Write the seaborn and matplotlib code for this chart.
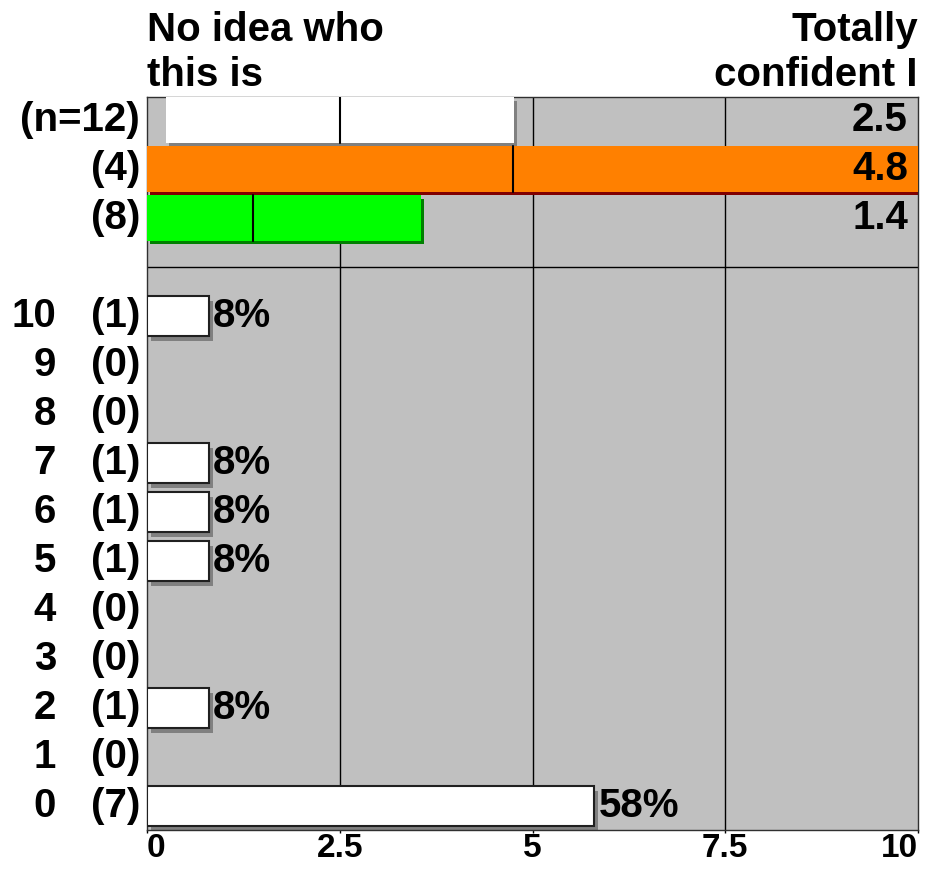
import numpy as np
import pandas as pd
import matplotlib
matplotlib.use("Agg")
import matplotlib.pyplot as plt
import seaborn as sns

# rating distribution (bottom panel)
ratings = [10, 9, 8, 7, 6, 5, 4, 3, 2, 1, 0]
counts = [1, 0, 0, 1, 1, 1, 0, 0, 1, 0, 7]
percents = [8, 0, 0, 8, 8, 8, 0, 0, 8, 0, 58]

# group summaries (top panel): mean with confidence interval
group_labels = ["(n=12)", "(4)", "(8)"]
group_means = [2.5, 4.75, 1.375]
group_mean_labels = ["2.5", "4.8", "1.4"]
group_ci_low = [0.24, 0.0, 0.0]
group_ci_high = [4.76, 10.0, 3.55]
group_colors = ["#FFFFFF", "#FF8000", "#00FF00"]
group_shadows = ["#808080", "#800000", "#008000"]

x_ticks = [0, 2.5, 5, 7.5, 10]
x_ticklabels = ["0", "2.5", "5", "7.5", "10"]
left_title = "No idea who\nthis is"
right_title = "Totally\nconfident I"

sns.set_style("white", {"axes.facecolor": "#C0C0C0"})
plt.rcParams["font.family"] = ["Liberation Sans", "DejaVu Sans"]
plt.rcParams["font.weight"] = "bold"
plt.rcParams["text.color"] = "black"
plt.rcParams["xtick.color"] = "black"
plt.rcParams["ytick.color"] = "black"
FS = 29

fig = plt.figure(figsize=(9.33, 8.71), dpi=100)
ax = fig.add_axes([147 / 933, 1 - 830 / 871, 771 / 933, 733 / 871])

df = pd.DataFrame({"rating": ratings, "count": counts, "pct": percents})
df["length"] = df["pct"] / 10
shown = df[df["pct"] > 0]

# grid lines
for xv in x_ticks[1:-1]:
    ax.axvline(xv, color="black", lw=1, zorder=1)
ax.axhline(11, color="black", lw=1, zorder=1)

# shadows of histogram bars
ax.barh(shown["rating"] - 0.1, shown["length"], left=0.05, height=0.82,
        color="#808080", linewidth=0, zorder=2)
sns.barplot(data=shown, x="length", y="rating", orient="h", native_scale=True,
            width=0.82, color="white", saturation=1, edgecolor="#202020",
            linewidth=1.5, errorbar=None, ax=ax, zorder=3)
for rt, ln, pc in zip(shown["rating"], shown["length"], shown["pct"]):
    ax.annotate(f"{int(pc)}%", (ln, rt), xytext=(3, 0),
                textcoords="offset points", va="center", ha="left",
                fontsize=FS, fontweight="bold", color="black", zorder=5)

# top panel
top_pos = [14, 13, 12]
for i, yp in enumerate(top_pos):
    lo, hi = group_ci_low[i], group_ci_high[i]
    ax.barh(yp - 0.07, hi - lo, left=lo + 0.04, height=0.92,
            color=group_shadows[i], linewidth=0, zorder=2)
    ax.barh(yp, hi - lo, left=lo, height=0.92, color=group_colors[i],
            linewidth=0, zorder=3)
    ax.plot([group_means[i]] * 2, [yp - 0.46, yp + 0.46], color="black",
            lw=1.5, zorder=4)
    ax.text(0.987, yp, group_mean_labels[i], transform=ax.get_yaxis_transform(),
            ha="right", va="center", fontsize=FS, fontweight="bold",
            color="black", zorder=5)

ax.set_xlim(0, 10)
ax.set_ylim(-0.49, 14.47)
ax.set_xlabel("")
ax.set_ylabel("")

ax.set_xticks(x_ticks)
ax.set_xticklabels(x_ticklabels, fontsize=24, fontweight="bold")
tl = ax.get_xticklabels()
tl[0].set_ha("left")
tl[-1].set_ha("right")
ax.tick_params(axis="x", length=2, width=1, pad=0, colors="black", bottom=True)

ax.set_yticks(ratings + top_pos)
ax.set_yticklabels([f"({c})" for c in counts] + group_labels,
                   fontsize=FS, fontweight="bold")
for t in ax.get_yticklabels():
    t.set_va("center")
ax.tick_params(axis="y", length=0, pad=5)

for rt in ratings:
    ax.text(-0.118, rt, str(rt), transform=ax.get_yaxis_transform(),
            ha="right", va="center", fontsize=FS, fontweight="bold",
            color="black")

for sp in ax.spines.values():
    sp.set_visible(True)
    sp.set_color("#303030")
    sp.set_linewidth(1)

ax.text(0.0, 1.004, left_title, transform=ax.transAxes, ha="left",
        va="bottom", fontsize=FS, fontweight="bold", linespacing=1.24,
        color="black")
ax.text(1.0, 1.004, right_title, transform=ax.transAxes, ha="right",
        va="bottom", multialignment="right", fontsize=FS, fontweight="bold",
        linespacing=1.24, color="black")

fig.savefig("out.png", dpi=100)
